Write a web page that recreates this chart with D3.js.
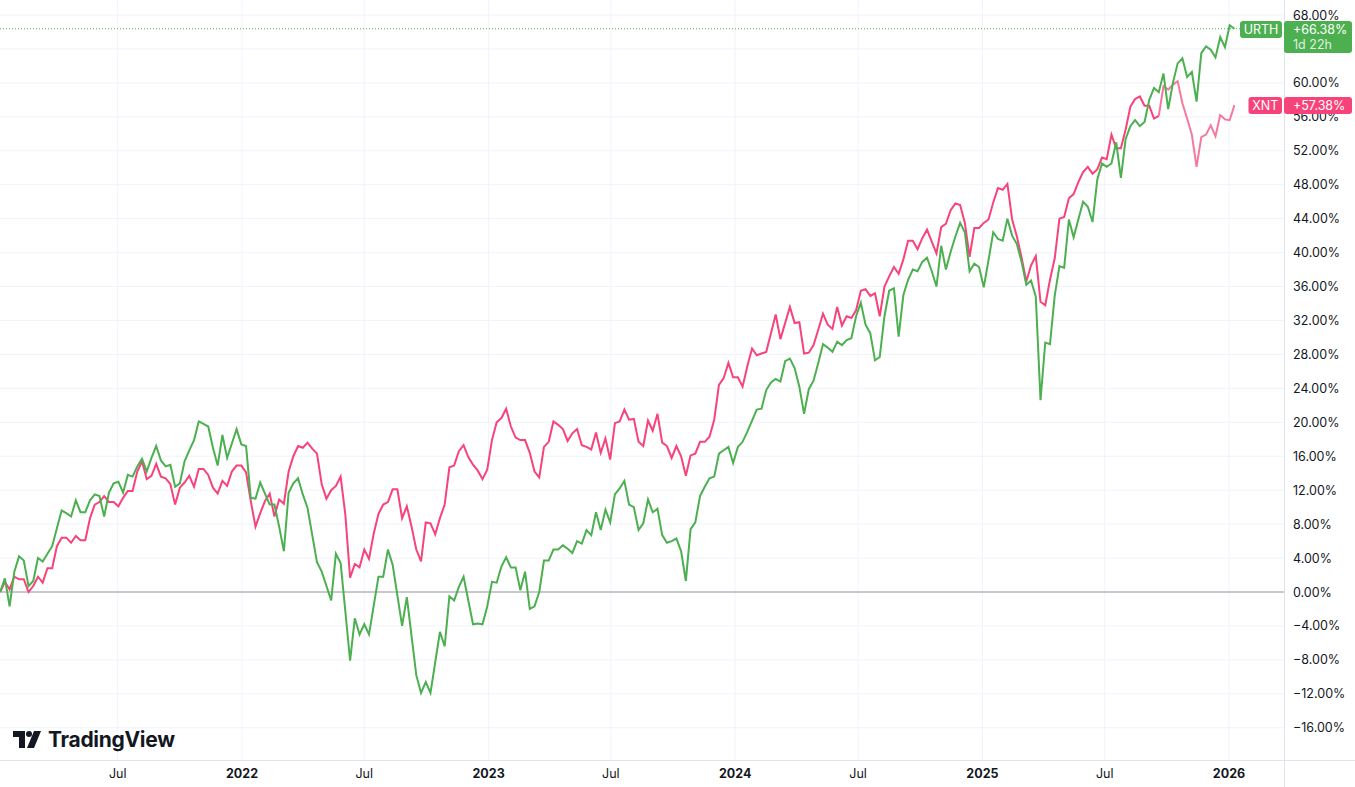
<!DOCTYPE html>
<html>
<head>
<meta charset="utf-8">
<script src="https://cdn.jsdelivr.net/npm/d3@7"></script>
<style>
  body { margin: 0; background: #fff; font-family: "Inter", "Roboto", sans-serif; }
</style>
</head>
<body>
<svg id="chart" width="1355" height="787"></svg>
<script>
// weekly closes, % change since first week (2021-01-08)
const startDate = '2021-01-08';
const urthVals = [0,1.6,-1.7,2.4,4.2,3.7,0.7,1.3,4.0,3.6,4.5,5.4,7.5,9.6,9.3,8.9,10.8,9.4,9.4,10.8,
  11.5,11.3,8.9,11.7,12.8,13.0,11.7,13.8,13.6,14.8,15.7,14.2,15.8,17.2,15.5,14.8,15.0,12.4,12.8,15.4,
  16.7,17.9,20.1,19.8,19.5,17.0,14.9,18.5,15.8,17.5,19.2,17.4,17.2,11.1,11.0,12.9,11.6,10.3,10.3,7.7,
  4.8,11.7,12.8,13.4,11.5,9.9,6.7,3.5,2.4,0.7,-1.0,4.5,3.4,-2.3,-8.1,-3.1,-5.0,-3.8,-5.0,-1.6,
  1.8,1.8,5.0,3.2,-0.4,-4.0,-0.6,-5.2,-9.8,-11.9,-10.6,-11.9,-8.3,-4.7,-6.4,-0.5,-1.0,0.6,1.8,-1.0,
  -3.8,-3.7,-3.8,-1.7,1.2,1.1,3.0,4.1,2.9,2.9,0.2,2.4,-2.0,-1.7,0,3.7,3.7,5.0,5.0,5.5,
  5.1,4.6,6.0,5.7,7.3,6.7,9.4,7.3,9.7,8.2,11.5,12.2,13.1,10.3,10.0,7.3,8.1,10.9,9.4,9.8,
  6.7,5.8,6.0,6.3,4.8,1.3,7.4,8.2,11.3,12.4,13.4,13.6,16.3,16.7,17.1,15.2,17.1,17.7,18.9,20.2,
  21.5,21.6,23.8,24.7,25.1,24.8,27.2,27.5,26.4,24.2,21.0,23.9,24.9,27.0,29.2,28.8,28.3,29.5,29.1,29.7,
  29.9,32.5,34.1,31.5,30.5,27.3,27.7,32.5,35.5,35.8,30.1,35.0,36.8,38.0,37.8,38.9,39.4,37.8,36.0,40.8,
  38.0,40.1,41.9,43.5,42.4,37.8,38.7,38.3,35.9,39.1,42.4,41.6,41.4,44.0,42.0,41.0,38.9,36.2,36.7,34.8,
  22.6,29.4,29.2,34.9,38.4,38.2,43.9,41.8,43.9,46.0,45.4,43.6,48.6,50.5,50.1,50.5,53.0,48.8,53.4,54.9,
  55.6,54.9,55.4,58.0,59.4,58.9,61.1,56.9,60.0,62.3,62.9,60.7,61.3,57.8,63.5,64.3,63.9,63.0,65.4,64.2,
  66.8,66.38];
const xntVals = [0,1.2,0.3,1.8,1.5,1.5,0,0.7,1.8,1.1,2.8,2.8,5.4,6.4,6.4,5.8,6.6,6.1,6.1,8.7,
  10.3,10.6,11.3,10.6,10.6,10.1,11.1,11.9,11.9,14.2,15.4,13.3,13.7,15.1,13.6,13.4,12.7,10.3,12.3,12.9,
  13.7,12.4,14.5,14.5,13.8,12.3,11.6,13.1,12.5,14.2,14.9,14.9,14.1,10.7,7.7,9.3,10.7,11.6,8.9,10.9,
  10.4,14.2,16.0,17.2,17.0,17.6,16.9,16.3,12.7,11.0,12.0,12.5,13.6,9.1,1.7,3.3,2.9,5.0,3.9,6.9,
  9.2,10.3,10.6,12.1,12.1,8.7,10.1,7.7,5.0,3.6,8.2,8.1,6.8,8.7,10.3,14.7,14.9,16.6,17.3,15.9,
  15.0,14.3,13.3,14.4,17.9,20.0,20.5,21.6,19.5,18.2,17.9,17.9,16.4,14.2,13.5,17.1,17.7,20.1,19.7,19.2,
  17.8,18.7,19.2,17.3,17.1,16.8,18.8,16.4,18.1,15.6,19.9,20.1,21.5,20.3,20.4,17.7,17.2,20.2,19.0,21.0,
  17.6,17.2,15.8,17.2,16.0,13.7,16.1,16.3,17.7,17.7,18.3,20.3,24.4,25.2,27.0,25.3,25.3,24.2,26.6,28.7,
  27.9,28.1,28.3,30.5,32.7,29.8,31.7,33.6,31.7,31.8,28.1,28.2,29.1,30.9,32.8,31.5,31.0,33.6,31.4,32.5,
  32.3,33.2,35.5,35.7,34.9,35.2,32.5,36.0,37.2,38.3,37.5,39.2,41.4,41.4,40.4,41.7,42.7,41.3,39.9,43.0,
  43.4,45.0,45.8,45.6,43.5,39.5,42.9,42.9,43.5,43.9,45.9,47.6,47.4,48.1,43.9,41.9,39.4,36.6,38.5,39.6,
  34.2,33.8,36.8,39.3,44.0,44.2,46.4,46.9,48.3,49.5,50.1,49.3,49.8,51.2,51.0,53.9,52.3,52.3,54.5,57.2,
  58.1,58.4,57.3,57.3,55.8,56.1,59.6,59.2,59.8,60.2,57.6,55.8,53.9,50.1,53.6,53.9,55.0,53.7,56.2,55.7,
  55.6,57.38];
const xntLightFrom = 245; // last stretch drawn lighter
const yTicks = d3.range(-16, 69, 4);
const xTicks = [['2021-07-01','Jul'],['2022-01-01','2022'],['2022-07-01','Jul'],['2023-01-01','2023'],
  ['2023-07-01','Jul'],['2024-01-01','2024'],['2024-07-01','Jul'],['2025-01-01','2025'],
  ['2025-07-01','Jul'],['2026-01-01','2026']];

const W = 1355, H = 787, plotW = 1284, plotH = 760;
const green = '#4caf50', pink = '#f7437a', pinkLight = '#f7789d';
const svg = d3.select('#chart');
const parse = d3.utcParse('%Y-%m-%d');
const d0 = parse(startDate);
const dates = urthVals.map((_, i) => d3.utcDay.offset(d0, 7 * i));

const x = d3.scaleUtc().domain([parse('2022-01-01'), parse('2026-01-01')]).range([242, 1229]);
const y = d3.scaleLinear().domain([0, 68]).range([592, 15]);

// grid
svg.append('g').selectAll('line').data(yTicks).join('line')
  .attr('x1', 0).attr('x2', plotW).attr('y1', d => y(d)).attr('y2', d => y(d))
  .attr('stroke', '#f0f3fa');
svg.append('g').selectAll('line').data(xTicks).join('line')
  .attr('x1', d => x(parse(d[0]))).attr('x2', d => x(parse(d[0])))
  .attr('y1', 0).attr('y2', plotH).attr('stroke', '#f0f3fa');
svg.append('line').attr('x1', 0).attr('x2', plotW).attr('y1', y(0)).attr('y2', y(0))
  .attr('stroke', '#9598a1');
svg.append('line').attr('x1', plotW + 0.5).attr('x2', plotW + 0.5).attr('y1', 0).attr('y2', H)
  .attr('stroke', '#e0e3eb');
svg.append('line').attr('x1', 0).attr('x2', W).attr('y1', plotH + 0.5).attr('y2', plotH + 0.5)
  .attr('stroke', '#e0e3eb');

// last-value dotted line for URTH
svg.append('line').attr('x1', 0).attr('x2', plotW).attr('y1', y(66.38)).attr('y2', y(66.38))
  .attr('stroke', green).attr('stroke-dasharray', '1,2');

const line = d3.line().x(d => x(d[0])).y(d => y(d[1]));
const xntPts = xntVals.map((v, i) => [dates[i], v]);
svg.append('path').datum(xntPts.slice(0, xntLightFrom + 1)).attr('d', line)
  .attr('fill', 'none').attr('stroke', pink).attr('stroke-width', 2);
svg.append('path').datum(xntPts.slice(xntLightFrom)).attr('d', line)
  .attr('fill', 'none').attr('stroke', pinkLight).attr('stroke-width', 2);
svg.append('path').datum(urthVals.map((v, i) => [dates[i], v])).attr('d', line)
  .attr('fill', 'none').attr('stroke', green).attr('stroke-width', 2);

// right axis
const fmt = v => (v < 0 ? '\u2212' : '') + Math.abs(v).toFixed(2) + '%';
svg.append('g').selectAll('text').data(yTicks).join('text')
  .attr('x', 1293).attr('y', d => y(d) + 4.5).text(fmt)
  .attr('font-size', 12.5).attr('fill', '#131722');

// bottom axis
svg.append('g').selectAll('text').data(xTicks).join('text')
  .attr('x', d => x(parse(d[0]))).attr('y', 778).attr('text-anchor', 'middle')
  .text(d => d[1]).attr('font-size', 12.5).attr('fill', '#131722')
  .attr('font-weight', d => d[1] === 'Jul' ? 400 : 700);

// series tags
function tag(name, val, color, yc, extra) {
  const g = svg.append('g').attr('font-size', 12.5).attr('fill', '#fff');
  const nw = name.length * 8.5 + 8;
  g.append('rect').attr('x', plotW - 2 - nw).attr('y', yc - 8.5).attr('width', nw).attr('height', 17)
    .attr('rx', 3).attr('fill', color);
  g.append('text').attr('x', plotW - 2 - nw / 2).attr('y', yc + 4.5).attr('text-anchor', 'middle').text(name);
  g.append('rect').attr('x', plotW).attr('y', yc - 8.5).attr('width', 68).attr('height', extra ? 32 : 17)
    .attr('rx', 3).attr('fill', color);
  g.append('text').attr('x', 1293).attr('y', yc + 4.5).text('+' + val.toFixed(2) + '%');
  if (extra) g.append('text').attr('x', 1293).attr('y', yc + 19).attr('fill-opacity', 0.85).text(extra);
}
tag('URTH', urthVals[urthVals.length - 1], green, 29.5, '1d 22h');
tag('XNT', xntVals[xntVals.length - 1], pink, 105.5);

// logo
const logo = svg.append('g').attr('transform', 'translate(13,731)').attr('fill', '#131722');
logo.append('path').attr('d', 'M0,0H12V17H6V6H0Z');
logo.append('circle').attr('cx', 16).attr('cy', 3).attr('r', 3);
logo.append('path').attr('d', 'M21,0H28L21,17H14Z');
svg.append('text').attr('x', 48).attr('y', 747).text('TradingView')
  .attr('font-size', 21).attr('font-weight', 700).attr('fill', '#131722').attr('letter-spacing', -0.3);
</script>
</body>
</html>
